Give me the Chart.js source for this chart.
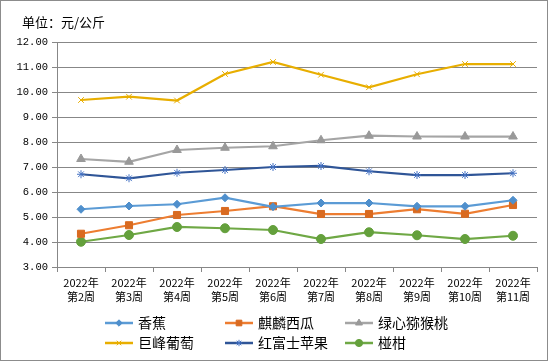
<!DOCTYPE html>
<html>
<head>
<meta charset="utf-8">
<script src="https://cdn.jsdelivr.net/npm/chart.js@4/dist/chart.umd.min.js"></script>
<style>
  html, body { margin: 0; padding: 0; background: #fff; }
  #wrap { width: 549px; height: 361px; position: relative; }
</style>
</head>
<body>
<div id="wrap"><canvas id="myChart" width="549" height="361"></canvas></div>
<script>
const weeks = ['第2周', '第3周', '第4周', '第5周', '第6周', '第7周', '第8周', '第9周', '第10周', '第11周'];
const yTicks = [3, 4, 5, 6, 7, 8, 9, 10, 11, 12];

const banana = [5.31, 5.44, 5.51, 5.77, 5.41, 5.56, 5.56, 5.43, 5.43, 5.67];
const watermelon = [4.33, 4.67, 5.08, 5.24, 5.43, 5.12, 5.12, 5.31, 5.13, 5.48];
const kiwi = [7.32, 7.21, 7.68, 7.77, 7.83, 8.07, 8.25, 8.22, 8.22, 8.22];
const grape = [9.68, 9.81, 9.66, 10.72, 11.2, 10.69, 10.19, 10.71, 11.12, 11.12];
const apple = [6.71, 6.55, 6.77, 6.88, 7.0, 7.04, 6.83, 6.68, 6.68, 6.75];
const ponkan = [4.01, 4.28, 4.6, 4.55, 4.48, 4.12, 4.39, 4.27, 4.12, 4.25];

const labels = weeks.map((w) => ['2022年', w]);
const cjk = "'Noto Sans CJK SC', 'Noto Sans', sans-serif";
const gridColor = '#878787';

const line = (label, data, color, style, radius, markerColor) => ({
  label,
  data,
  borderColor: color,
  backgroundColor: markerColor || color,
  borderWidth: 2.25,
  pointStyle: style,
  pointRadius: radius,
  pointBorderColor: markerColor || color,
  pointBackgroundColor: markerColor || color,
  pointBorderWidth: 1,
  tension: 0,
});

// frame, unit title and legend drawn on the canvas
const extras = {
  id: 'extras',
  afterDraw(chart) {
    const ctx = chart.ctx;
    ctx.save();
    ctx.strokeStyle = '#8c8c8c';
    ctx.lineWidth = 1;
    ctx.strokeRect(0.5, 0.5, 547, 360);

    ctx.fillStyle = '#000';
    ctx.font = `13px ${cjk}`;
    ctx.textBaseline = 'middle';
    ctx.fillText('单位：元/公斤', 22, 22);

    const cols = [105, 225, 345];
    const rows = [323, 343];
    chart.data.datasets.forEach((ds, i) => {
      const x = cols[i % 3];
      const y = rows[Math.floor(i / 3)];
      ctx.strokeStyle = ds.borderColor;
      ctx.lineWidth = 2.5;
      ctx.beginPath();
      ctx.moveTo(x, y);
      ctx.lineTo(x + 28, y);
      ctx.stroke();
      ctx.fillStyle = ds.pointBackgroundColor;
      ctx.strokeStyle = ds.pointBorderColor;
      ctx.lineWidth = 1;
      Chart.helpers.drawPoint(ctx, {
        pointStyle: ds.pointStyle,
        radius: ds.pointRadius * 0.8,
        borderWidth: 1,
        rotation: 0,
      }, x + 14, y);
      ctx.fillStyle = '#000';
      ctx.font = `14px ${cjk}`;
      ctx.textBaseline = 'middle';
      ctx.fillText(ds.label, x + 33, y);
    });
    ctx.restore();
  },
};

new Chart(document.getElementById('myChart'), {
  type: 'line',
  data: {
    labels,
    datasets: [
      line('香蕉', banana, '#5B9BD5', 'rectRot', 4, '#4F8FCC'),
      line('麒麟西瓜', watermelon, '#ED7D31', 'rect', 5, '#D96A20'),
      line('绿心猕猴桃', kiwi, '#A5A5A5', 'triangle', 5, '#999999'),
      line('巨峰葡萄', grape, '#E8AE00', 'crossRot', 4, '#E8AE00'),
      line('红富士苹果', apple, '#2F5597', 'star', 4, '#4472C4'),
      line('椪柑', ponkan, '#6FA845', 'circle', 4.5, '#64A03C'),
    ],
  },
  options: {
    responsive: false,
    animation: false,
    layout: { padding: { left: 0, right: 12, top: 42, bottom: 54 } },
    plugins: {
      legend: { display: false },
      tooltip: { enabled: false },
    },
    scales: {
      x: {
        offset: true,
        grid: {
          offset: true,
          drawOnChartArea: false,
          drawTicks: true,
          tickLength: 5,
          color: gridColor,
        },
        border: { color: gridColor, width: 1 },
        ticks: {
          color: '#000',
          font: { family: cjk, size: 11, lineHeight: 1.35 },
          maxRotation: 0,
          autoSkip: false,
          padding: 3,
        },
        afterFit(scale) {
          scale.height = 40;
        },
      },
      y: {
        min: yTicks[0],
        max: yTicks[yTicks.length - 1],
        afterBuildTicks(scale) {
          scale.ticks = yTicks.map((v) => ({ value: v }));
        },
        grid: { color: gridColor, tickLength: 5 },
        border: { color: gridColor, width: 1 },
        ticks: {
          color: '#000',
          font: { family: "'Liberation Mono', 'DejaVu Sans Mono', monospace", size: 10.5 },
          padding: 4,
          callback: (v) => v.toFixed(2),
        },
        afterFit(scale) {
          scale.width = 57;
        },
      },
    },
  },
  plugins: [extras],
});
</script>
</body>
</html>
